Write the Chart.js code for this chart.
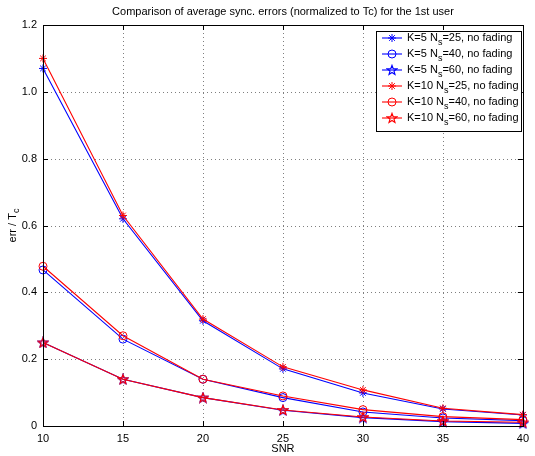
<!DOCTYPE html>
<html>
<head>
<meta charset="utf-8">
<script src="https://cdn.jsdelivr.net/npm/chart.js@4/dist/chart.umd.min.js"></script>
<style>
  body { margin: 0; background: #fff; }
  canvas { display: block; }
</style>
</head>
<body>
<canvas id="grafikSync" width="535" height="456"></canvas>
<script>
// data
const snr = [10, 15, 20, 25, 30, 35, 40];
const k5ns25 = [1.07, 0.62, 0.315, 0.171, 0.099, 0.051, 0.033];
const k5ns40 = [0.467, 0.26, 0.14, 0.085, 0.042, 0.024, 0.016];
const k5ns60 = [0.25, 0.14, 0.085, 0.047, 0.025, 0.013, 0.008];
const k10ns25 = [1.10, 0.63, 0.32, 0.177, 0.108, 0.053, 0.034];
const k10ns40 = [0.478, 0.27, 0.14, 0.09, 0.049, 0.028, 0.019];
const k10ns60 = [0.25, 0.14, 0.085, 0.048, 0.027, 0.015, 0.011];
const legendLabels = [
    ['K=5 N', 's', '=25, no fading'],
    ['K=5 N', 's', '=40, no fading'],
    ['K=5 N', 's', '=60, no fading'],
    ['K=10 N', 's', '=25, no fading'],
    ['K=10 N', 's', '=40, no fading'],
    ['K=10 N', 's', '=60, no fading']
];

const FONT = 'Liberation Sans, Arial, Helvetica, sans-serif';
const BLUE = '#0000ff';
const RED = '#ff0000';

function pentagram(color) {
    const c = document.createElement('canvas');
    c.width = 12; c.height = 12;
    const g = c.getContext('2d');
    g.strokeStyle = color;
    g.lineWidth = 1.2;
    g.lineJoin = 'miter';
    g.beginPath();
    for (let i = 0; i < 10; i++) {
        const r = i % 2 === 0 ? 5 : 2.1;
        const a = -Math.PI / 2 + i * Math.PI / 5;
        const px = 6 + r * Math.cos(a), py = 6.4 + r * Math.sin(a);
        if (i === 0) g.moveTo(px, py); else g.lineTo(px, py);
    }
    g.closePath();
    g.stroke();
    return c;
}

function serie(values, color, style, radius, order) {
    return {
        data: snr.map((x, i) => ({ x: x, y: values[i] })),
        borderColor: color,
        backgroundColor: 'rgba(0,0,0,0)',
        pointBorderColor: color,
        pointBackgroundColor: 'rgba(0,0,0,0)',
        pointStyle: style,
        pointRadius: radius,
        pointBorderWidth: 1,
        borderWidth: 1.1,
        tension: 0,
        clip: false,
        order: order
    };
}

const datasets = [
    serie(k5ns25, BLUE, 'star', 4, 1),
    serie(k5ns40, BLUE, 'circle', 4, 1),
    serie(k5ns60, BLUE, pentagram(BLUE), 5, 1),
    serie(k10ns25, RED, 'star', 4, 0),
    serie(k10ns40, RED, 'circle', 4, 0),
    serie(k10ns60, RED, pentagram(RED), 5, 0)
];

function drawSubText(g, parts, x, y) {
    g.textAlign = 'left';
    g.textBaseline = 'alphabetic';
    g.font = '11px ' + FONT;
    g.fillText(parts[0], x, y);
    let w = g.measureText(parts[0]).width;
    g.font = '9px ' + FONT;
    g.fillText(parts[1], x + w, y + 4);
    w += g.measureText(parts[1]).width;
    g.font = '11px ' + FONT;
    g.fillText(parts[2], x + w, y);
}

const matlabLook = {
    id: 'matlabLook',
    beforeDatasetsDraw(chart) {
        const g = chart.ctx, a = chart.chartArea;
        const xs = chart.scales.x, ys = chart.scales.y;
        g.save();
        g.strokeStyle = 'rgba(0,0,0,0.5)';
        g.lineWidth = 1;
        g.setLineDash([1, 3]);
        xs.ticks.forEach(t => {
            const px = Math.round(xs.getPixelForValue(t.value)) + 0.5;
            if (px <= a.left + 1 || px >= a.right - 1) return;
            g.beginPath(); g.moveTo(px, a.top); g.lineTo(px, a.bottom); g.stroke();
        });
        ys.ticks.forEach(t => {
            const py = Math.round(ys.getPixelForValue(t.value)) + 0.5;
            if (py <= a.top + 1 || py >= a.bottom - 1) return;
            g.beginPath(); g.moveTo(a.left, py); g.lineTo(a.right, py); g.stroke();
        });
        g.restore();
    },
    afterDraw(chart) {
        const g = chart.ctx, a = chart.chartArea;
        const xs = chart.scales.x, ys = chart.scales.y;
        g.save();
        // box and inward ticks
        g.strokeStyle = '#000';
        g.lineWidth = 1;
        g.strokeRect(Math.round(a.left) + 0.5, Math.round(a.top) + 0.5,
            Math.round(a.right - a.left), Math.round(a.bottom - a.top));
        xs.ticks.forEach(t => {
            const px = Math.round(xs.getPixelForValue(t.value)) + 0.5;
            g.beginPath();
            g.moveTo(px, a.bottom); g.lineTo(px, a.bottom - 5);
            g.moveTo(px, a.top); g.lineTo(px, a.top + 5);
            g.stroke();
        });
        ys.ticks.forEach(t => {
            const py = Math.round(ys.getPixelForValue(t.value)) + 0.5;
            g.beginPath();
            g.moveTo(a.left, py); g.lineTo(a.left + 5, py);
            g.moveTo(a.right, py); g.lineTo(a.right - 5, py);
            g.stroke();
        });

        // titles
        g.fillStyle = '#000';
        g.font = '11px ' + FONT;
        g.textAlign = 'center';
        g.textBaseline = 'middle';
        const cx = (a.left + a.right) / 2;
        g.fillText('Comparison of average sync. errors (normalized to Tc) for the 1st user', cx, 12);
        g.fillText('SNR', cx, 449);
        g.save();
        g.translate(13, (a.top + a.bottom) / 2);
        g.rotate(-Math.PI / 2);
        g.textAlign = 'left';
        const w1 = g.measureText('err / T').width;
        g.font = '9px ' + FONT;
        const w2 = g.measureText('c').width;
        const x0 = -(w1 + w2) / 2;
        g.font = '11px ' + FONT;
        g.fillText('err / T', x0, 0);
        g.font = '9px ' + FONT;
        g.fillText('c', x0 + w1, 4);
        g.restore();

        // legend
        const lx = 376.5, ly = 31.5, lw = 145, lh = 100;
        g.fillStyle = '#fff';
        g.fillRect(lx, ly, lw, lh);
        g.strokeStyle = '#000';
        g.setLineDash([]);
        g.strokeRect(lx, ly, lw, lh);
        chart.data.datasets.forEach((ds, i) => {
            const ry = 38 + i * 16;
            g.strokeStyle = ds.borderColor;
            g.lineWidth = ds.borderWidth;
            g.beginPath(); g.moveTo(382, ry); g.lineTo(402, ry); g.stroke();
            g.lineWidth = ds.pointBorderWidth;
            g.fillStyle = 'rgba(0,0,0,0)';
            Chart.helpers.drawPoint(g, {
                pointStyle: ds.pointStyle, radius: ds.pointRadius, rotation: 0, borderWidth: ds.pointBorderWidth
            }, 392, ry);
            g.fillStyle = '#000';
            drawSubText(g, legendLabels[i], 407, ry + 3);
        });
        g.restore();
    }
};

const grafikSync = new Chart(document.getElementById('grafikSync').getContext('2d'), {
    type: 'line',
    data: { datasets: datasets },
    options: {
        responsive: false,
        animation: false,
        events: [],
        layout: { padding: { top: 25, right: 5, left: 0, bottom: 0 } },
        scales: {
            x: {
                type: 'linear',
                min: 10, max: 40,
                afterFit(s) { s.height = 30; },
                grid: { display: false, drawTicks: false },
                border: { display: false },
                ticks: { stepSize: 5, color: '#000', padding: 6, font: { family: FONT, size: 11 } }
            },
            y: {
                min: 0, max: 1.2,
                afterFit(s) { s.width = 43; },
                grid: { display: false, drawTicks: false },
                border: { display: false },
                ticks: { stepSize: 0.2, color: '#000', padding: 6, font: { family: FONT, size: 11 } }
            }
        },
        plugins: {
            legend: { display: false },
            tooltip: { enabled: false },
            title: { display: false }
        }
    },
    plugins: [matlabLook]
});
</script>
</body>
</html>
